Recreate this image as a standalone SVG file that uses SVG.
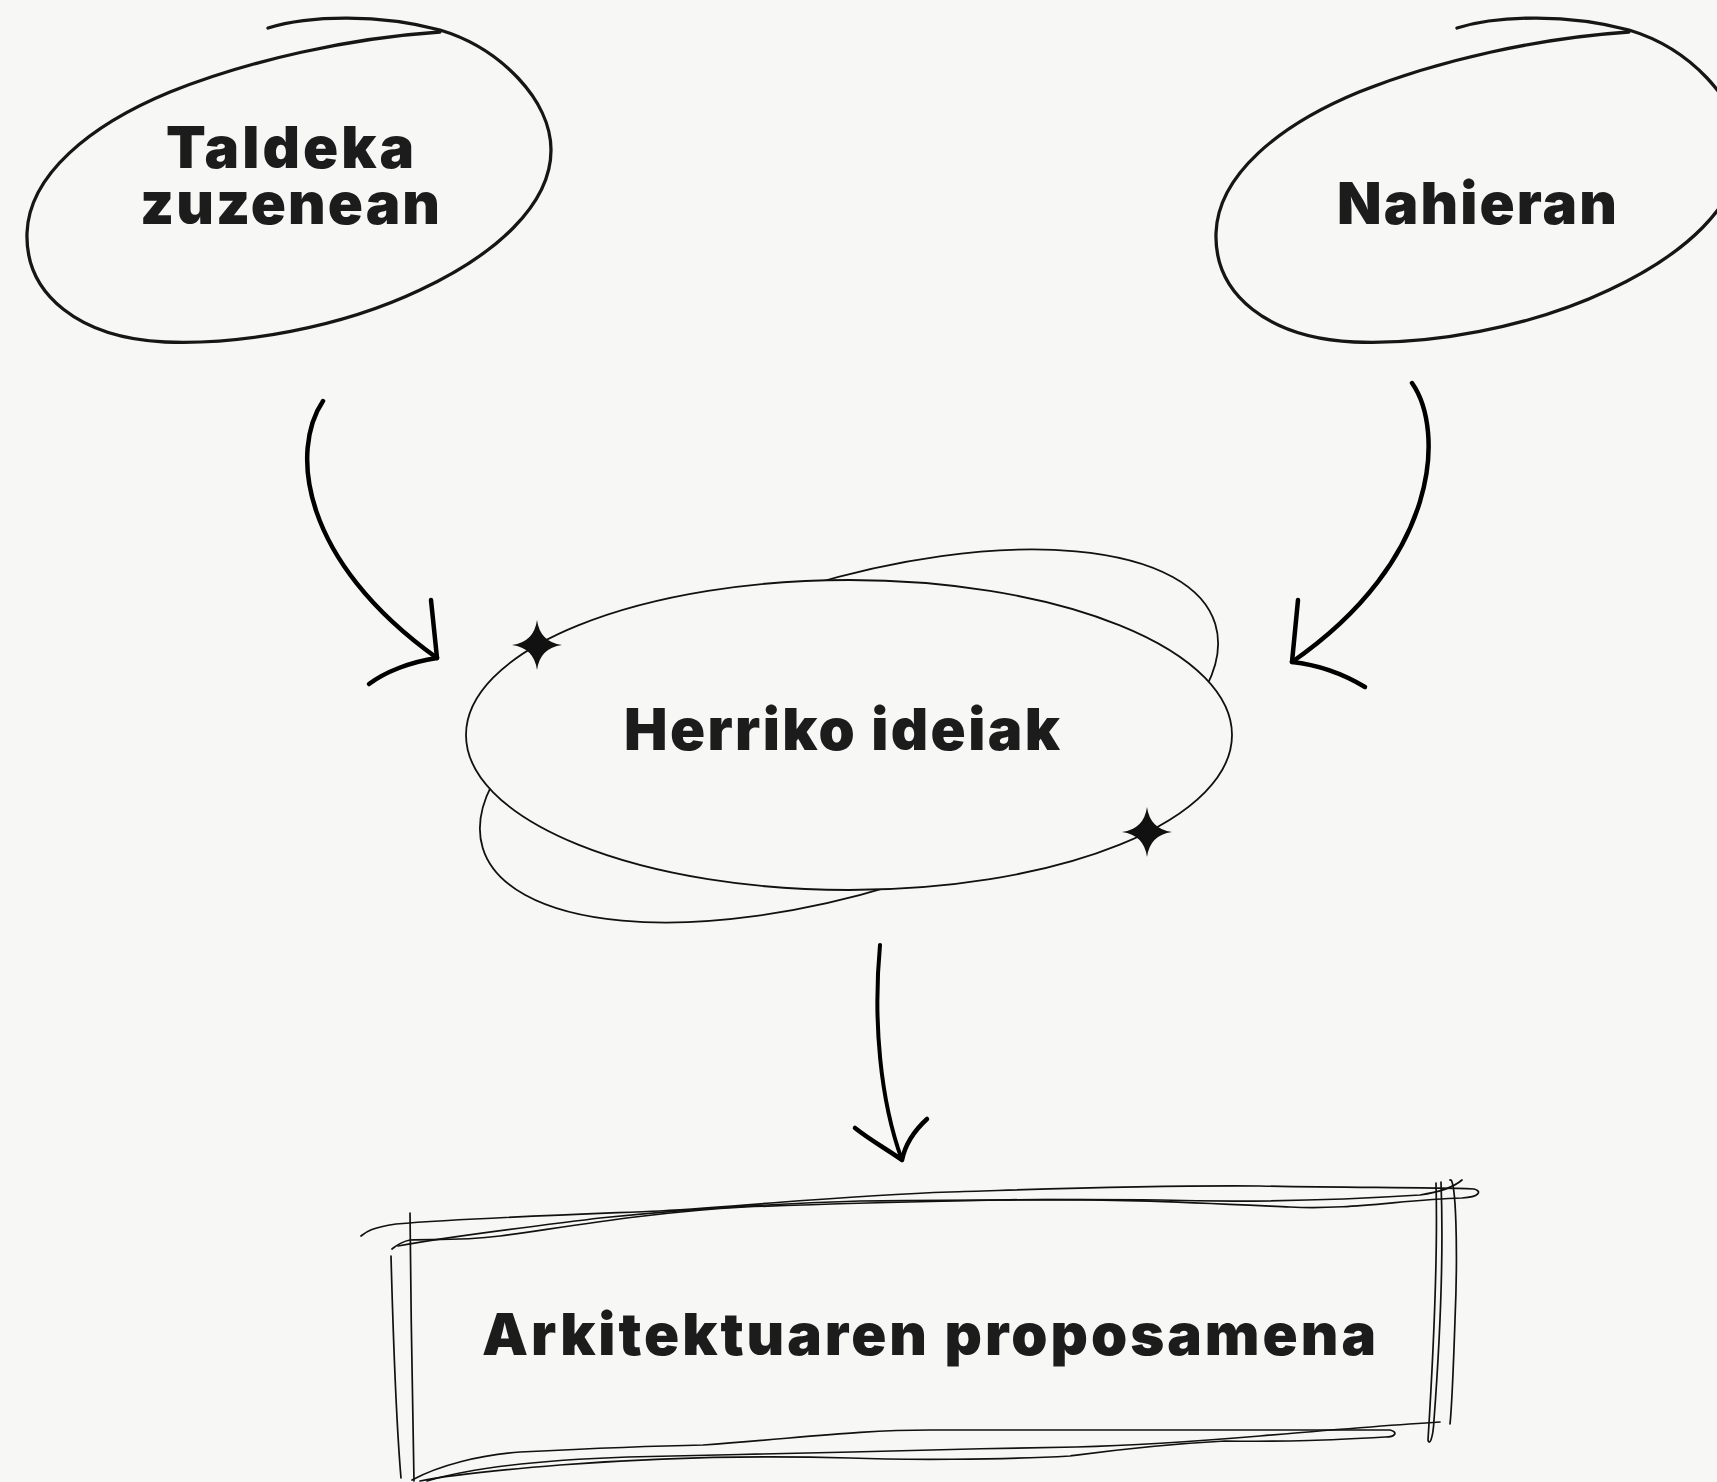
<svg xmlns="http://www.w3.org/2000/svg" width="1717" height="1482" viewBox="0 0 1717 1482">
<style>
.bg{fill:#f7f7f5}
.lbl{font-family:Inter,"Liberation Sans",sans-serif;font-weight:900;font-size:58px;fill:#1c1c1c;text-anchor:middle}
.loop{fill:none;stroke:#161616;stroke-width:3.3;stroke-linecap:round;stroke-linejoin:round}
.thin{fill:none;stroke:#111;stroke-width:1.8}
.rough{fill:none;stroke:#111;stroke-width:1.7;stroke-linecap:round;stroke-linejoin:round}
.arr{fill:none;stroke:#000;stroke-width:4.5;stroke-linecap:round;stroke-linejoin:round}
</style>
<defs>
<path id="loopEll" d="M268,28 C310,15 380,14 440,30 C500,48 551,100 551,150 C551,205 495,255 420,290 C340,328 240,345 165,342 C80,338 25,295 27,233 C29,175 90,125 170,92 C250,60 350,38 440,32"/>
<path id="spark" d="M0,-25 Q3,-3 25,0 Q3,3 0,25 Q-3,3 -25,0 Q-3,-3 0,-25Z"/>
</defs>
<rect class="bg" x="0" y="0" width="1717" height="1482"/>

<g id="taldeka">
<use href="#loopEll" class="loop"/>
<text class="lbl" x="290" y="168" textLength="248" lengthAdjust="spacing">Taldeka</text>
<text class="lbl" x="290" y="224" textLength="300" lengthAdjust="spacing">zuzenean</text>
</g>

<g id="nahieran">
<use href="#loopEll" class="loop" transform="translate(1189,0)"/>
<text class="lbl" x="1477" y="224" textLength="280" lengthAdjust="spacing">Nahieran</text>
</g>

<g id="herriko">
<ellipse class="thin" cx="849" cy="736" rx="383" ry="156" transform="rotate(-17 849 736)"/>
<ellipse class="thin" cx="849" cy="735" rx="383" ry="155" style="fill:#f7f7f5"/>
<use href="#spark" x="537" y="645" fill="#111"/>
<use href="#spark" x="1147" y="832" fill="#111"/>
<text class="lbl" x="842" y="750" textLength="436" lengthAdjust="spacing">Herriko ideiak</text>
</g>

<g id="arkitektura">
<path class="rough" d="M361,1236 C366,1232 370,1228 396,1224 C470,1218 560,1215 660,1211 C760,1205 850,1195 950,1192 C1050,1189 1150,1185 1260,1186 C1350,1188 1420,1187 1474,1189 C1482,1191 1480,1197 1462,1198 C1400,1200 1350,1210 1290,1207 C1200,1203 1100,1198 1000,1200 C900,1202 820,1204 745,1207 C650,1212 560,1228 500,1236 C460,1241 430,1239 410,1240 C400,1242 396,1246 392,1249"/>
<path class="rough" d="M398,1246 C450,1236 520,1228 600,1218 C680,1210 760,1204 860,1201 C960,1200 1060,1199 1160,1200 C1260,1203 1340,1200 1420,1195 C1440,1192 1455,1186 1462,1180"/>
<path class="rough" d="M410,1213 C411,1300 412,1400 414,1481"/>
<path class="rough" d="M391,1256 C393,1330 396,1420 401,1478"/>
<path class="rough" d="M1450,1180 C1456,1176 1458,1250 1455,1320 C1453,1380 1452,1405 1450,1424"/>
<path class="rough" d="M1436,1183 C1438,1260 1433,1360 1428,1440 C1429,1446 1433,1440 1434,1420 C1440,1340 1444,1260 1441,1182"/>
<path class="rough" d="M412,1480 C440,1465 480,1455 520,1452 C600,1448 650,1446 703,1445 C800,1438 860,1430 930,1430 C1050,1430 1200,1430 1390,1430 C1398,1432 1396,1437 1385,1437 C1330,1440 1290,1442 1225,1441 C1150,1445 1100,1452 1070,1456 C1000,1460 900,1460 850,1458 C750,1455 650,1458 560,1465 C500,1470 450,1475 420,1481"/>
<path class="rough" d="M427,1481 C470,1468 540,1460 628,1457 C700,1456 780,1453 852,1452 C930,1450 1000,1448 1076,1447 C1150,1445 1200,1441 1260,1436 C1330,1430 1390,1425 1440,1422"/>
<text class="lbl" x="929" y="1355" textLength="894" lengthAdjust="spacing">Arkitektuaren proposamena</text>
</g>

<g id="connectors">
<path class="arr" d="M323,401 C290,450 300,560 437,658"/>
<path class="arr" d="M431,600 C433,620 435,640 437,658 C410,662 385,672 369,684"/>
<path class="arr" d="M1412,383 C1445,430 1440,560 1292,662"/>
<path class="arr" d="M1298,600 C1296,620 1294,640 1292,662 C1320,665 1345,675 1365,687"/>
<path class="arr" style="stroke-width:4" d="M880,945 C873,1020 880,1100 902,1160"/>
<path class="arr" d="M855,1128 C870,1140 888,1150 902,1160 C905,1145 915,1130 927,1119"/>
</g>
</svg>
